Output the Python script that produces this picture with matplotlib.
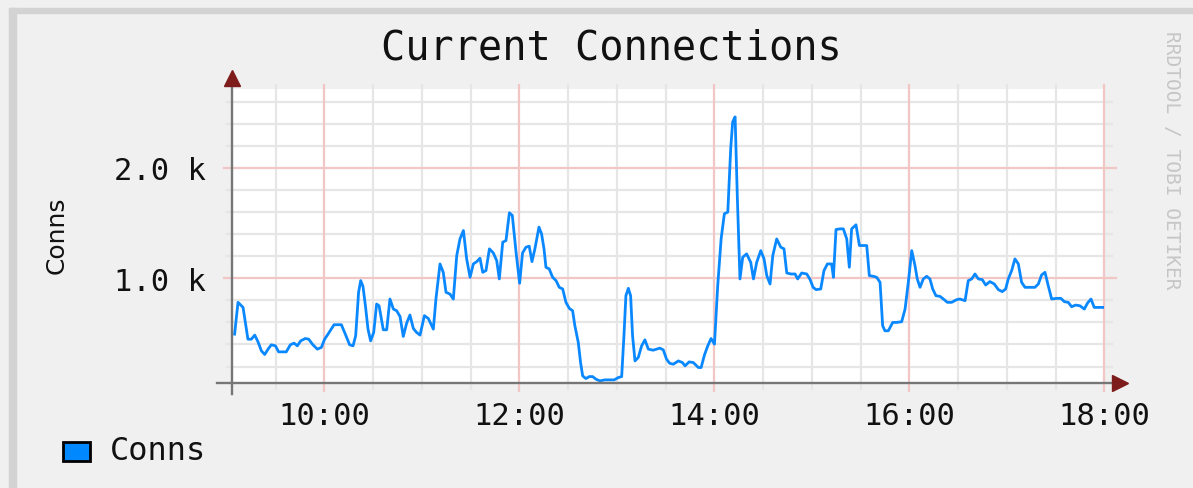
import matplotlib
matplotlib.use('Agg')
import matplotlib.pyplot as plt
from matplotlib.patches import Rectangle
import numpy as np

plt.rcParams['font.family'] = 'DejaVu Sans Mono'

# minutes after 09:00, connections
minutes = [4.8, 6.9, 8.5, 10.0, 11.4, 13.0, 15.1, 17.2, 19.2, 21.3, 23.3, 25.4, 27.4, 29.9,
           31.9, 36.6, 39.1, 41.4, 43.4, 45.5, 48.3, 50.4, 53.0, 55.7, 58.2, 60.2, 62.3, 66.0,
           70.5, 72.5, 75.6, 77.7, 79.3, 81.1, 82.4, 83.8, 85.3, 86.9, 88.5, 90.4, 92.2, 93.7,
           96.3, 98.4, 100.4, 102.5, 104.5, 106.6, 108.6, 110.7, 112.7, 114.8, 116.8, 118.9,
           121.6, 124.0, 127.1, 128.7, 131.2, 133.2, 134.9, 137.3, 139.4, 141.5, 143.5, 145.6,
           147.6, 149.7, 151.7, 153.8, 155.8, 157.5, 159.5, 161.6, 164.0, 166.1, 167.7, 169.8,
           171.8, 173.9, 175.7, 178.0, 180.2, 182.0, 184.1, 186.1, 187.8, 189.6, 192.1, 193.7,
           195.2, 196.4, 198.4, 200.5, 202.6, 204.6, 206.7, 208.7, 210.8, 212.8, 214.2, 216.3,
           217.7, 219.0, 221.0, 223.1, 225.1, 227.2, 229.6, 232.7, 235.8, 238.4, 240.9, 243.0,
           244.4, 245.6, 247.1, 248.5, 249.7, 251.2, 253.2, 255.3, 257.3, 259.4, 262.4, 266.5,
           268.6, 270.6, 272.5, 274.8, 277.9, 280.4, 282.0, 284.5, 287.1, 290.2, 291.9, 293.9,
           296.0, 298.0, 300.1, 302.1, 304.2, 306.2, 308.3, 310.1, 311.3, 312.8, 314.2, 315.8,
           317.5, 319.9, 322.4, 324.1, 326.1, 328.6, 330.6, 332.3, 334.3, 336.0, 338.4, 340.9,
           342.9, 344.6, 347.2, 349.7, 351.3, 353.8, 356.9, 358.9, 360.8, 362.6, 365.5, 367.5,
           369.6, 372.2, 373.3, 374.9, 377.4, 379.4, 381.5, 383.1, 384.5, 387.2, 389.3, 391.7,
           393.8, 395.4, 397.9, 399.9, 402.0, 403.6, 405.0, 407.1, 409.8, 412.2, 415.3, 417.4,
           419.4, 421.5, 423.5, 424.9, 426.6, 428.6, 430.7, 432.7, 434.4, 436.4, 438.9, 441.0,
           443.4, 446.1, 449.1, 451.2, 454.3, 456.3, 458.4, 460.4, 462.5, 464.9, 467.0, 469.6,
           472.3, 474.8, 477.2, 479.3, 480.9, 483.0, 485.0, 487.1, 489.1, 491.2, 494.2, 497.3,
           499.4, 501.4, 503.5, 505.5, 507.6, 510.7, 513.3, 515.4, 517.8, 519.9, 522.3, 525.0,
           527.7, 529.7, 531.8, 533.8, 536.7, 539.8]
conns = [494, 782, 758, 736, 600, 448, 448, 485, 424, 342, 309, 358, 397, 388,
         333, 333, 397, 412, 388, 433, 454, 448, 397, 358, 373, 448, 494, 579,
         579, 509, 397, 388, 479, 873, 979, 927, 751, 539, 433, 509, 767, 751,
         533, 533, 812, 721, 706, 654, 473, 594, 667, 545, 509, 485,
         661, 636, 539, 812, 1130, 1054, 873, 857, 812, 1206, 1357, 1433,
         1176, 1009, 1130, 1151, 1182, 1054, 1070, 1267, 1230, 1160, 994, 1327,
         1342, 1594, 1570, 1236, 955, 1230, 1282, 1291, 1151, 1267, 1464, 1403,
         1267, 1100, 1085, 1009, 979, 918, 903, 782, 727, 706, 570, 418,
         236, 115, 91, 109, 109, 85, 70, 79, 79, 79, 100, 109,
         479, 842, 909, 842, 479, 251, 282, 388, 442, 358, 348, 367,
         351, 267, 230, 221, 251, 236, 206, 242, 236, 191, 191, 303,
         388, 454, 403, 933, 1357, 1585, 1600, 2176, 2418, 2463, 1721, 994,
         1191, 1221, 1145, 994, 1145, 1251, 1176, 1024, 948, 1206, 1357, 1282,
         1267, 1048, 1039, 1039, 994, 1048, 1039, 990, 918, 897, 903, 1070,
         1130, 1130, 1009, 1442, 1448, 1448, 1357, 1100, 1448, 1485, 1297, 1297,
         1297, 1024, 1018, 1009, 964, 570, 524, 524, 600, 600, 606, 721,
         964, 1251, 1115, 994, 918, 994, 1018, 994, 903, 842, 836, 812,
         782, 782, 806, 812, 797, 979, 994, 1039, 994, 988, 939, 970,
         948, 897, 879, 903, 994, 1070, 1176, 1130, 964, 918, 918, 918,
         948, 1030, 1054, 933, 812, 818, 818, 788, 782, 742, 757, 751,
         721, 776, 812, 736, 736, 736]

hour_ticks = [10, 12, 14, 16, 18]
hour_labels = ['10:00', '12:00', '14:00', '16:00', '18:00']
ytick_vals = [1000, 2000]
ytick_labels = ['1.0 k', '2.0 k']

W, H = 1193, 489
fig = plt.figure(figsize=(W / 100, H / 100), dpi=100, facecolor='#f0f0f0')

# shaded frame on the left / top
fig.patches.append(Rectangle((9 / W, 0), 6.5 / W, 1 - 9 / H, transform=fig.transFigure,
                             color='#d3d3d3', zorder=0))
fig.patches.append(Rectangle((9 / W, 1 - 13.5 / H), 1, 4.5 / H, transform=fig.transFigure,
                             color='#d3d3d3', zorder=0))

px_w = 1104.3 - 232
px_h = 384.3 - 90
ax = fig.add_axes([232 / W, 1 - 384.3 / H, px_w / W, px_h / H])
ax.set_facecolor('white')
for s in ax.spines.values():
    s.set_visible(False)

t = 9 + np.array(minutes) / 60.0
ax.set_xlim(9 + 3.2 / 60, 18)
ax.set_ylim(48, 2716)

# grid
ytr = ax.get_yaxis_transform()
xtr = ax.get_xaxis_transform()
for v in np.arange(200, 2700, 200):
    if v % 1000 == 0:
        ax.plot([-8 / px_w, (1116 - 232) / px_w], [v, v], transform=ytr, clip_on=False,
                color='#f3c6c6', lw=1.6, zorder=1)
    else:
        ax.plot([-5 / px_w, (1112 - 232) / px_w], [v, v], transform=ytr, clip_on=False,
                color='#e6e6e6', lw=1.6, zorder=0.5)
for h in np.arange(9.5, 18.01, 0.5):
    if h in hour_ticks:
        ax.plot([h, h], [-8 / px_h, 1.012], transform=xtr, clip_on=False,
                color='#f3c6c6', lw=1.6, zorder=1)
    else:
        ax.plot([h, h], [-6 / px_h, 1.012], transform=xtr, clip_on=False,
                color='#e6e6e6', lw=1.6, zorder=0.5)

ax.plot(t, conns, color='#0a88ff', lw=2.0, zorder=3, solid_joinstyle='round')

# axes with arrows
ax.plot([-15 / px_w, (1113 - 232) / px_w], [0, 0], transform=ax.transAxes, clip_on=False,
        color='#767676', lw=1.7, zorder=4)
ax.plot([0, 0], [-11 / px_h, (384.3 - 84) / px_h], transform=ax.transAxes, clip_on=False,
        color='#767676', lw=1.7, zorder=4)
ax.plot([0], [(384.3 - 79) / px_h], marker='^', ms=11, color='#7e1c1c',
        transform=ax.transAxes, clip_on=False, zorder=5)
ax.plot([(1120 - 232) / px_w], [0], marker='>', ms=11, color='#7e1c1c',
        transform=ax.transAxes, clip_on=False, zorder=5)

ax.set_xticks(hour_ticks, hour_labels)
ax.set_yticks(ytick_vals, ytick_labels)
ax.tick_params(axis='x', length=0, pad=13, labelsize=22, colors='#111111')
ax.tick_params(axis='y', length=0, pad=19, labelsize=22, colors='#111111')

fig.text(611 / W, 1 - 48 / H, 'Current Connections', ha='center', va='center',
         fontsize=29, color='#111111')
fig.text(57 / W, 1 - 235 / H, 'Conns', rotation=90, ha='center', va='center',
         fontsize=18, family='DejaVu Sans', color='#111111')
fig.text(1172 / W, 1 - 160 / H, 'RRDTOOL / TOBI OETIKER', rotation=270, ha='center',
         va='center', fontsize=14, color='#c6c6c6')

# legend
fig.patches.append(Rectangle((63 / W, 1 - 462 / H), 27 / W, 19 / H, transform=fig.transFigure,
                             facecolor='#0088ff', edgecolor='black', lw=2))
fig.text(110 / W, 1 - 452 / H, 'Conns', ha='left', va='center', fontsize=23, color='#111111')

fig.savefig('out.png', dpi=100, facecolor=fig.get_facecolor())
